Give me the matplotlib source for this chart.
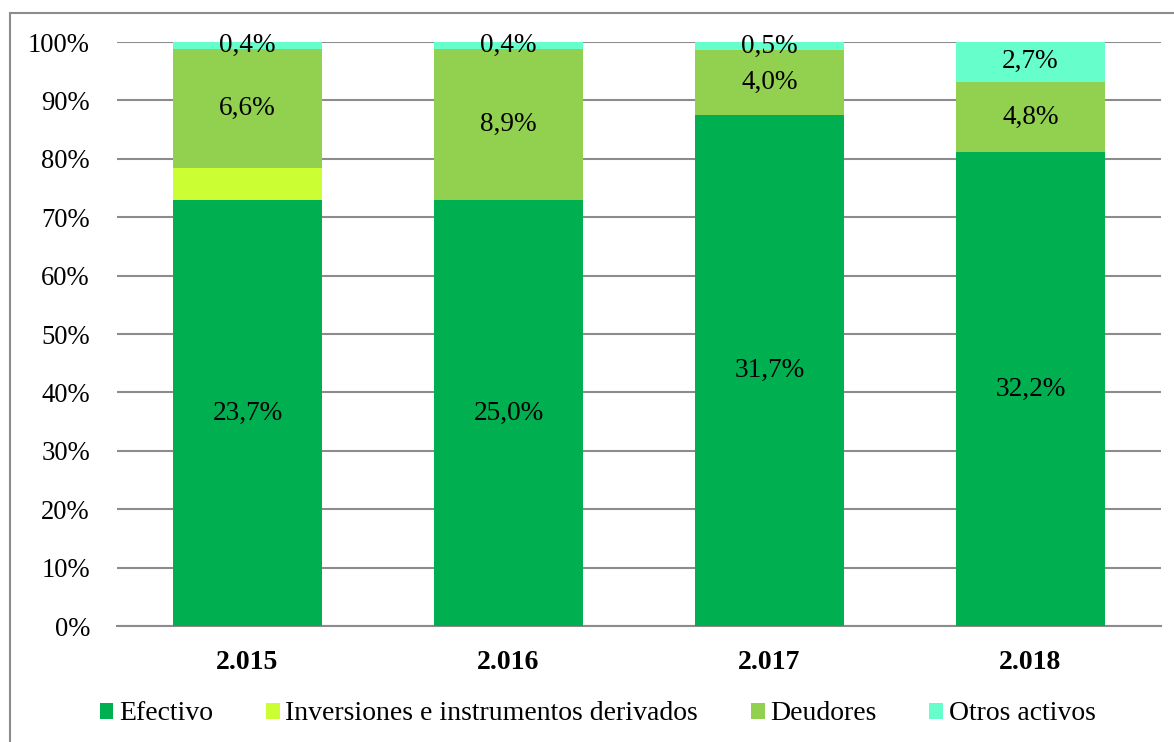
import matplotlib.pyplot as plt
from matplotlib.patches import Rectangle
import numpy as np

plt.rcParams['font.family'] = ['Liberation Serif', 'DejaVu Serif']

# Values (absolute, shown as labels); bars are normalised to 100%
years = ['2.015', '2.016', '2.017', '2.018']
efectivo = [23.7, 25.0, 31.7, 32.2]
inversiones = [1.8, 0.0, 0.0, 0.0]
deudores = [6.6, 8.9, 4.0, 4.8]
otros = [0.4, 0.4, 0.5, 2.7]

series = [
    ('Efectivo', efectivo, '#00B050', True),
    ('Inversiones e instrumentos derivados', inversiones, '#CCFF33', False),
    ('Deudores', deudores, '#92D050', True),
    ('Otros activos', otros, '#66FFCC', True),
]

totals = np.array(efectivo) + np.array(inversiones) + np.array(deudores) + np.array(otros)

W, H = 1174, 742
fig = plt.figure(figsize=(W / 100, H / 100), dpi=100)
ax = fig.add_axes([117 / W, 1 - 626 / H, (1161 - 117) / W, (626 - 42) / H])

# outer chart border (right/bottom edges fall outside the picture)
fig.patches.append(Rectangle((10 / W, -1), 5, 1 - 13 / H + 1, transform=fig.transFigure,
                             fill=False, edgecolor='#8c8c8c', lw=1.5, zorder=0))

x = np.arange(len(years))
bottom = np.zeros(len(years))
for name, vals, color, show in series:
    pct = np.array(vals) / totals * 100
    ax.bar(x, pct, 0.57, bottom=bottom, color=color, label=name, zorder=3)
    if show:
        for xi, b, p, v in zip(x, bottom, pct, vals):
            ax.text(xi, b + p / 2, f'{v:.1f}%'.replace('.', ','), ha='center', va='center',
                    fontsize=19.6, color='black', zorder=5)
    bottom += pct

ax.set_xlim(-0.5, 3.5)
ax.set_ylim(0, 100)
ax.set_yticks(range(0, 101, 10))
ax.set_yticklabels([f'{v}%' for v in range(0, 101, 10)], fontsize=19.2)
ax.set_xticks(x)
ax.set_xticklabels(years, fontsize=20, fontweight='bold')
ax.tick_params(axis='y', length=0, pad=19.5)
ax.tick_params(axis='x', length=0, pad=17)
ax.grid(axis='y', color='#8c8c8c', lw=1.5, zorder=1)
ax.set_axisbelow(True)
for s in ['top', 'right', 'left']:
    ax.spines[s].set_visible(False)
ax.spines['bottom'].set_color('#8c8c8c')
ax.spines['bottom'].set_linewidth(1.5)

fig.legend(loc='center', bbox_to_anchor=(0.509, 1 - 714 / H), ncol=4, frameon=False,
           fontsize=20, handlelength=0.5, handleheight=0.5, handletextpad=0.2,
           columnspacing=1.9, borderpad=0)

fig.savefig('out.png', dpi=100)
